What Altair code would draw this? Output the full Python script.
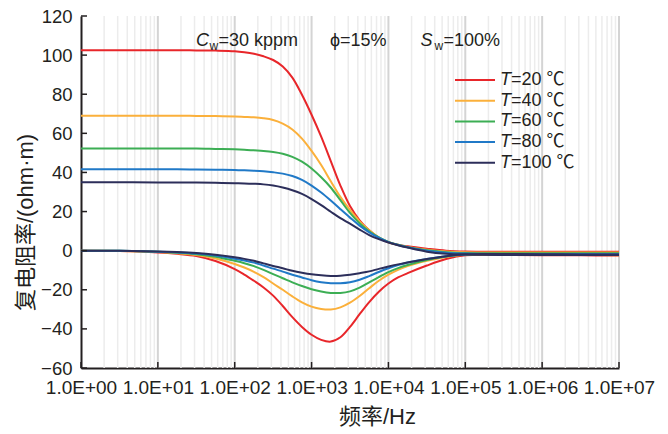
import altair as alt
import pandas as pd

# log10(frequency) sample positions
LOGF = [0, 0.5, 1, 1.25, 1.5, 1.75,
        2, 2.125, 2.25, 2.375, 2.5, 2.625, 2.75, 2.875, 3, 3.125, 3.25, 3.375, 3.5, 3.625, 3.75, 3.875, 4, 4.125, 4.25,
        4.5, 4.75, 5, 5.5, 6, 6.5, 7]

SERIES = ["T=20 ℃", "T=40 ℃", "T=60 ℃", "T=80 ℃", "T=100 ℃"]
TEMPS = ["=20 ℃", "=40 ℃", "=60 ℃", "=80 ℃", "=100 ℃"]
COLORS = ["#e8262a", "#fbb03b", "#3cae54", "#2079c7", "#2c2e5a"]

REAL = {
    "T=20 ℃": [102.5, 102.5, 102.5, 102.5, 102.4, 102.3,
               102.0, 101.5, 100.7, 99.4, 97.5, 94.2, 88.5, 79.7, 69.5, 58.3, 45.8, 33.3, 22.8, 15.5, 10.4, 6.6, 4.3, 3.0, 2.2,
               1.0, 0.0, -0.4, -0.5, -0.5, -0.5, -0.5],
    "T=40 ℃": [69.0, 69.0, 69.0, 69.0, 68.9, 68.8,
               68.6, 68.4, 68.2, 67.7, 66.8, 65.0, 62.0, 57.3, 51.0, 43.8, 35.5, 27.5, 20.8, 15.0, 10.4, 6.8, 4.3, 2.9, 1.9,
               0.5, -0.4, -0.8, -0.9, -0.9, -0.9, -0.9],
    "T=60 ℃": [52.3, 52.3, 52.3, 52.2, 52.2, 52.0,
               51.8, 51.6, 51.3, 51.0, 50.5, 49.6, 48.0, 45.5, 42.0, 37.5, 32.3, 25.8, 19.3, 14.0, 9.9, 6.8, 4.5, 3.0, 1.8,
               0.2, -0.8, -1.2, -1.3, -1.3, -1.3, -1.3],
    "T=80 ℃": [41.6, 41.6, 41.6, 41.6, 41.5, 41.4,
               41.2, 41.1, 40.9, 40.6, 40.1, 39.4, 38.2, 36.2, 33.3, 29.7, 25.6, 21.2, 16.9, 12.8, 9.4, 6.6, 4.4, 2.9, 1.7,
               -0.1, -1.1, -1.5, -1.7, -1.7, -1.7, -1.7],
    "T=100 ℃": [35.0, 35.0, 34.9, 34.9, 34.8, 34.7,
                34.5, 34.4, 34.2, 33.9, 33.3, 32.3, 30.9, 29.0, 26.4, 23.3, 19.9, 16.6, 13.8, 10.8, 8.0, 5.9, 4.2, 2.8, 1.6,
                -0.5, -1.6, -2.0, -2.2, -2.2, -2.2, -2.2],
}

IMAG = {
    "T=20 ℃": [0, -0.2, -0.9, -1.6, -2.7, -5.3,
               -9.4, -12.2, -15.4, -18.8, -23.0, -28.3, -34.0, -39.0, -43.0, -45.6, -46.5, -44.3, -39.0, -32.5, -26.3, -21.0, -16.8, -13.7, -11.5,
               -7.6, -4.3, -2.4, -2.2, -2.3, -2.4, -2.5],
    "T=40 ℃": [0, -0.2, -0.7, -1.3, -2.2, -4.0,
               -6.8, -8.6, -10.8, -13.5, -16.8, -20.0, -23.4, -26.4, -28.6, -29.8, -30.1, -29.0, -26.6, -23.2, -19.2, -15.4, -12.3, -9.8, -7.9,
               -5.2, -3.2, -2.1, -2.0, -2.1, -2.2, -2.3],
    "T=60 ℃": [0, -0.1, -0.6, -1.1, -1.8, -3.1,
               -5.2, -6.4, -7.9, -9.8, -12.0, -14.1, -16.2, -18.1, -19.7, -20.9, -21.6, -21.6, -20.8, -18.9, -16.2, -13.5, -11.0, -8.9, -7.3,
               -4.8, -3.0, -2.0, -1.9, -2.0, -2.1, -2.2],
    "T=80 ℃": [0, -0.1, -0.5, -0.9, -1.5, -2.5,
               -4.1, -5.0, -6.1, -7.6, -9.2, -10.7, -12.3, -13.7, -15.1, -16.1, -16.6, -16.7, -16.2, -14.9, -13.0, -10.9, -9.0, -7.4, -6.1,
               -4.2, -2.8, -1.9, -1.8, -1.9, -2.0, -2.1],
    "T=100 ℃": [0, -0.1, -0.4, -0.7, -1.2, -2.1,
                -3.4, -4.2, -5.2, -6.5, -7.8, -9.0, -10.3, -11.3, -12.1, -12.6, -12.9, -12.8, -12.3, -11.5, -10.6, -9.3, -8.1, -7.0, -6.1,
                -4.3, -2.8, -1.8, -1.7, -1.8, -1.9, -2.0],
}

DECADES = [1, 10, 100, 1000, 10000, 100000, 1000000, 10000000]
MINOR = [k * d for d in DECADES[:-1] for k in range(2, 10)]
Y_TICKS = [-60, -40, -20, 0, 20, 40, 60, 80, 100, 120]

FONT = "Liberation Sans, Arial, Noto Sans CJK SC"
W, H = 538, 352

rows = []
for s in SERIES:
    for part, src in (("real", REAL), ("imag", IMAG)):
        for lf, v in zip(LOGF, src[s]):
            rows.append({"f": 10 ** lf, "v": v, "T": s, "part": part})
df = pd.DataFrame(rows)

xs = alt.Scale(type="log", domain=[1, 1e7], nice=False)
ys = alt.Scale(domain=[-60, 120], nice=False, zero=False)

xaxis = alt.Axis(
    values=DECADES, labelExpr="'1.0E+0' + round(log(datum.value) / LN10)",
    grid=False, ticks=False, tickSize=0, domainColor="#231f20", domainWidth=2,
    labelFont=FONT, labelFontSize=19, labelColor="#231f20", labelPadding=10,
    labelFlush=False, labelOverlap=False,
    title="频率/Hz", titleFont=FONT, titleFontSize=22, titleFontWeight="normal",
    titleColor="#231f20", titleX=296, titleY=48, titleBaseline="middle", titleAlign="center",
)
yaxis = alt.Axis(
    values=Y_TICKS, grid=False, ticks=False, tickSize=0, domainColor="#231f20", domainWidth=2,
    labelFont=FONT, labelFontSize=18.5, labelColor="#231f20", labelPadding=9,
    labelFlush=False, labelOverlap=False,
    title="复电阻率/(ohm·m)", titleFont=FONT, titleFontSize=22, titleFontWeight="normal",
    titleColor="#231f20", titleX=-56, titleY=206, titleAngle=-90, titleBaseline="middle", titleAlign="center",
)

minor_grid = alt.Chart(pd.DataFrame({"f": MINOR})).mark_rule(color="#ececec", strokeWidth=1.5).encode(
    x=alt.X("f:Q", scale=xs, axis=xaxis), y=alt.value(0), y2=alt.value(H)
)
major_grid = alt.Chart(pd.DataFrame({"f": DECADES[1:]})).mark_rule(color="#d4d4d4", strokeWidth=2).encode(
    x=alt.X("f:Q", scale=xs, axis=xaxis), y=alt.value(0), y2=alt.value(H)
)

lines = alt.Chart(df).mark_line(strokeWidth=2, interpolate="catmull-rom").encode(
    x=alt.X("f:Q", scale=xs, axis=xaxis),
    y=alt.Y("v:Q", scale=ys, axis=yaxis),
    color=alt.Color("T:N", scale=alt.Scale(domain=SERIES, range=COLORS), legend=None),
    detail="part:N",
)

yticks = alt.Chart(pd.DataFrame({"v": Y_TICKS})).mark_rule(color="#231f20", strokeWidth=1.5).encode(
    y=alt.Y("v:Q", scale=ys, axis=yaxis), x=alt.value(0), x2=alt.value(6)
)
xticks = alt.Chart(pd.DataFrame({"f": DECADES})).mark_rule(color="#231f20", strokeWidth=1.5).encode(
    x=alt.X("f:Q", scale=xs, axis=xaxis), y=alt.value(H), y2=alt.value(H - 6)
)

# legend (built by hand so that "T" can be italic)
leg = pd.DataFrame({
    "T": SERIES,
    "rest": TEMPS,
    "ly": [64 + i * 20.7 for i in range(len(SERIES))],
})
leg_lines = alt.Chart(leg).mark_rule(strokeWidth=2).encode(
    x=alt.value(374), x2=alt.value(414), y=alt.Y("ly:Q", scale=None),
    color=alt.Color("T:N", scale=alt.Scale(domain=SERIES, range=COLORS), legend=None),
)
leg_t = alt.Chart(leg).mark_text(font=FONT, fontSize=18, fontStyle="italic", align="left",
                                 baseline="middle", color="#231f20").encode(
    x=alt.value(419), y=alt.Y("ly:Q", scale=None), text=alt.value("T")
)
leg_rest = alt.Chart(leg).mark_text(font=FONT, fontSize=18, align="left",
                                    baseline="middle", color="#231f20").encode(
    x=alt.value(430), y=alt.Y("ly:Q", scale=None), text="rest:N"
)

# annotations
ann_it = pd.DataFrame({"t": ["C", "S"], "px": [115, 339.5], "py": [30, 30]})
ann_sub = pd.DataFrame({"t": ["w", "w"], "px": [128.5, 353.5], "py": [34, 34]})
ann_norm = pd.DataFrame({"t": ["=30 kppm", "ϕ=15%", "=100%"], "px": [137.5, 249, 362.5], "py": [30, 30, 30]})

t_it = alt.Chart(ann_it).mark_text(font=FONT, fontSize=18, fontStyle="italic", align="left",
                                   baseline="alphabetic", color="#231f20").encode(
    x=alt.X("px:Q", scale=None), y=alt.Y("py:Q", scale=None), text="t:N")
t_sub = alt.Chart(ann_sub).mark_text(font=FONT, fontSize=12, align="left",
                                     baseline="alphabetic", color="#231f20").encode(
    x=alt.X("px:Q", scale=None), y=alt.Y("py:Q", scale=None), text="t:N")
t_norm = alt.Chart(ann_norm).mark_text(font=FONT, fontSize=18, align="left",
                                       baseline="alphabetic", color="#231f20").encode(
    x=alt.X("px:Q", scale=None), y=alt.Y("py:Q", scale=None), text="t:N")

chart = alt.layer(
    minor_grid, major_grid, lines, yticks, xticks, leg_lines, leg_t, leg_rest, t_it, t_sub, t_norm
).properties(
    width=W, height=H,
    autosize=alt.AutoSizeParams(type="none"),
    padding={"left": 81, "top": 16, "right": 49, "bottom": 66},
    background="white",
).configure_view(stroke=None)

chart.save("out.html", embed_options={"renderer": "svg", "actions": False})
